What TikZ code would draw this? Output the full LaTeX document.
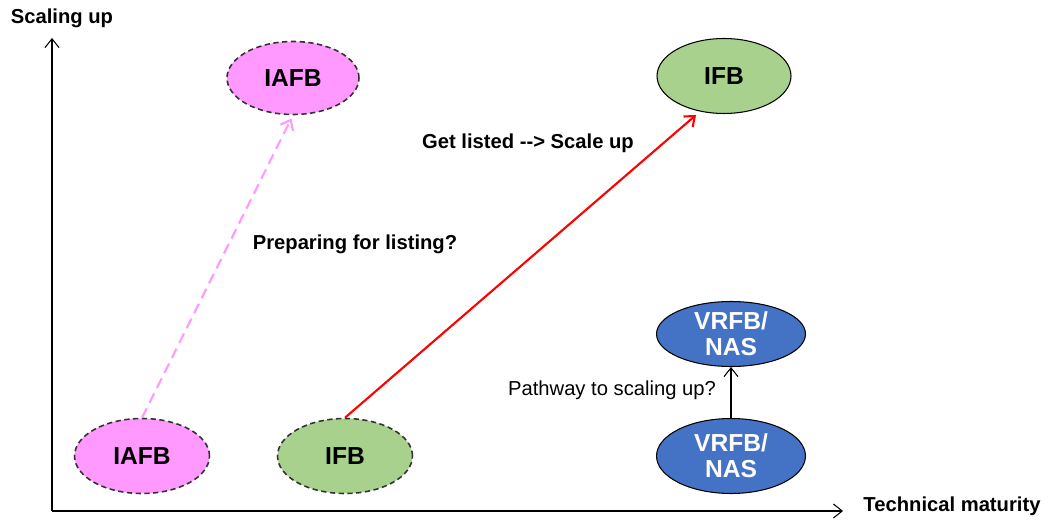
\documentclass[tikz,border=0pt]{standalone}
\usepackage{fontspec}
\setmainfont{Liberation Sans}
\usetikzlibrary{shapes.geometric, arrows.meta}

\definecolor{iafbpink}{HTML}{FF99FF}
\definecolor{ifbgreen}{HTML}{A9D18E}
\definecolor{vrfbblue}{HTML}{4472C4}
\definecolor{rimgrey}{HTML}{333333}

\begin{document}
\begin{tikzpicture}[x=0.02cm, y=-0.02cm, line join=round,
  blob/.style={ellipse, inner sep=0pt, minimum width=2.7cm, minimum height=1.5cm,
    font=\fontsize{14}{15}\selectfont\bfseries, align=center},
  hazy/.style={blob, draw=rimgrey, dash pattern=on 3pt off 2pt, line width=0.9pt},
  solidrim/.style={blob, draw=black, line width=0.6pt},
  caption/.style={font=\fontsize{11.5}{13}\selectfont\bfseries},
  tip/.style={-{Straight Barb[length=5pt, width=8pt]}}]
\useasboundingbox (0,0) rectangle (1048,520);

% Axes
\coordinate (O) at (52,511);
\coordinate (Ytop) at (52,38);
\coordinate (Xend) at (843,511);
\draw[tip, line width=0.6pt] (O) -- (Ytop);
\draw[tip, line width=0.6pt] (O) -- (Xend);
\node[caption] (ylab) at (62,18) {Scaling up};
\node[caption] (xlab) at (952,506) {Technical maturity};

% Bubbles, today
\node[hazy, fill=iafbpink] (iafbnow) at (142,456) {IAFB};
\node[hazy, fill=ifbgreen] (ifbnow) at (345,456) {IFB};
\node[solidrim, fill=vrfbblue, minimum width=2.98cm, text=white] (vrfbnow) at (731,456) {VRFB/\\NAS};

% Bubbles, later
\node[hazy, fill=iafbpink, minimum width=2.64cm, minimum height=1.46cm] (iafblater) at (293,78) {IAFB};
\node[solidrim, fill=ifbgreen, minimum width=2.68cm] (ifblater) at (724,76) {IFB};
\node[solidrim, fill=vrfbblue, minimum width=2.98cm, minimum height=1.3cm, text=white] (vrfblater) at (731,334) {VRFB/\\NAS};

% Pathways
\draw[tip, iafbpink, line width=1.2pt, dash pattern=on 6pt off 3.5pt, shorten >=2pt] (iafbnow.north) -- (iafblater.south);
\draw[tip, red, line width=1.2pt, shorten >=3pt] (ifbnow.north) -- (ifblater.236);
\draw[tip, line width=0.6pt] (vrfbnow) -- (vrfblater);

\node[caption] (preplabel) at (355,244) {Preparing for listing?};
\node[caption] (listlabel) at (528,143) {Get listed -{}-> Scale up};
\node[font=\fontsize{11.5}{13}\selectfont] (pathlabel) at (612,390) {Pathway to scaling up?};
\end{tikzpicture}
\end{document}
